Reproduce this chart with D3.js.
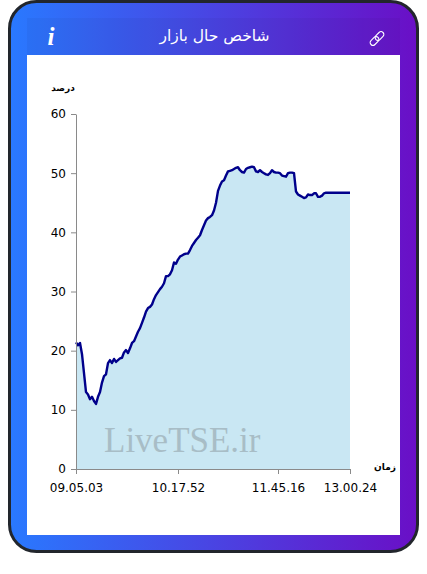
<!DOCTYPE html>
<html><head><meta charset="utf-8">
<script src="https://cdn.jsdelivr.net/npm/d3@7/dist/d3.min.js"></script>
<style>html,body{margin:0;padding:0;background:#fff;overflow:hidden}svg{display:block}</style>
</head><body><svg id="c" width="427" height="574"></svg>
<script>
const titleText = "شاخص حال بازار";
const yUnit = "درصد";
const xUnit = "زمان";
const watermark = "LiveTSE.ir";
const yTicks = [0,10,20,30,40,50,60];
const xTickIndex = [0,51,101,137];
const xTickLabels = ["09.05.03","10.17.52","11.45.16","13.00.24"];
const indexValues = [
21.4,20.9,21.3,19.4,16.2,13.0,12.6,11.8,12.2,11.5,11.0,12.2,13.0,14.6,15.7,16.0,17.9,18.4,17.9,18.6,
18.1,18.4,18.7,18.8,19.7,20.1,19.6,20.4,21.3,21.6,22.4,23.2,23.8,24.7,25.6,26.6,27.2,27.4,27.8,28.7,
29.4,29.9,30.4,30.8,31.4,32.6,32.6,32.9,33.6,34.9,34.7,35.4,35.9,36.1,36.3,36.4,36.4,37.0,37.7,38.2,
38.7,39.1,39.5,40.4,41.2,42.0,42.4,42.6,42.9,43.7,45.0,47.0,47.9,48.6,48.8,49.6,50.3,50.4,50.5,50.7,
50.9,51.0,50.5,50.2,50.1,50.7,50.9,51.0,51.1,51.0,50.3,50.2,50.5,50.2,50.0,49.8,49.7,50.0,50.5,50.2,
50.1,50.1,50.0,49.6,49.5,49.4,50.0,50.1,50.1,50.0,46.9,46.4,46.2,46.0,45.8,45.9,46.4,46.3,46.3,46.6,
46.6,46.0,46.0,46.2,46.6,46.7,46.7,46.7,46.7,46.7,46.7,46.7,46.7,46.7,46.7,46.7,46.7,46.7];

const svg = d3.select("#c");
const defs = svg.append("defs");
const g = defs.append("linearGradient").attr("id","grad").attr("x1","0").attr("x2","1").attr("y1","0").attr("y2","0");
g.append("stop").attr("offset","0").attr("stop-color","#2979ff");
g.append("stop").attr("offset","1").attr("stop-color","#6a0fc6");

svg.append("rect").attr("x",9.5).attr("y",1.5).attr("width",408).attr("height",550).attr("rx",27)
  .attr("fill","url(#grad)").attr("stroke","#22262c").attr("stroke-width",3);
svg.append("rect").attr("x",27).attr("y",18).attr("width",373).attr("height",37).attr("fill","#000").attr("opacity",.035);
svg.append("rect").attr("x",27).attr("y",55).attr("width",373).attr("height",480).attr("fill","#fff");

svg.append("text").attr("x",214.5).attr("y",40.5).attr("text-anchor","middle").attr("direction","rtl")
  .attr("font-family","'DejaVu Sans'").attr("font-size",15.5).attr("fill","#fff").text(titleText);
svg.append("text").attr("x",51).attr("y",45).attr("text-anchor","middle")
  .attr("font-family","'Liberation Serif'").attr("font-weight","bold").attr("font-style","italic")
  .attr("font-size",25).attr("fill","#fff").text("i");
const link = svg.append("g").attr("transform","translate(377,38.5) rotate(-45)").attr("fill","none").attr("stroke","#fff").attr("stroke-width",1.1);
link.append("rect").attr("x",-8.5).attr("y",-2.8).attr("width",10).attr("height",5.6).attr("rx",2.8);
link.append("rect").attr("x",-1.5).attr("y",-2.8).attr("width",10).attr("height",5.6).attr("rx",2.8);

const x = d3.scaleLinear().domain([0,indexValues.length-1]).range([76,350]);
const y = d3.scaleLinear().domain([0,60]).range([469,114]);

svg.append("path").datum(indexValues).attr("fill","#c9e7f3")
  .attr("d",d3.area().x((d,i)=>x(i)).y0(y(0)).y1(d=>y(d)));
svg.append("text").attr("x",104).attr("y",452).attr("font-family","'Liberation Serif'")
  .attr("font-size",35).attr("fill","#a8bdc6").text(watermark);
svg.append("path").datum(indexValues).attr("fill","none").attr("stroke","#00008b").attr("stroke-width",2.4)
  .attr("stroke-linejoin","round").attr("d",d3.line().x((d,i)=>x(i)).y(d=>y(d)));

const ax = svg.append("g").attr("transform",`translate(0,${y(0)})`)
  .call(d3.axisBottom(x).tickValues(xTickIndex).tickFormat((d,i)=>xTickLabels[i]).tickSize(5).tickSizeOuter(0));
const ay = svg.append("g").attr("transform","translate(76,0)")
  .call(d3.axisLeft(y).tickValues(yTicks).tickSize(5).tickSizeOuter(0));
[ax,ay].forEach(a=>{
  a.selectAll("path,line").attr("stroke","#8a8a8a");
  a.selectAll("text").attr("fill","#000").attr("font-family","'DejaVu Sans'").attr("font-size",12);
});
ax.selectAll("text").attr("dy","1.25em");
ay.selectAll("text").attr("x",-10);

svg.append("text").attr("x",63).attr("y",91).attr("text-anchor","middle").attr("direction","rtl")
  .attr("font-family","'DejaVu Sans'").attr("font-weight","bold").attr("font-size",9).attr("fill","#000").text(yUnit);
svg.append("text").attr("x",385).attr("y",470).attr("text-anchor","middle").attr("direction","rtl")
  .attr("font-family","'DejaVu Sans'").attr("font-weight","bold").attr("font-size",9).attr("fill","#000").text(xUnit);
</script></body></html>
